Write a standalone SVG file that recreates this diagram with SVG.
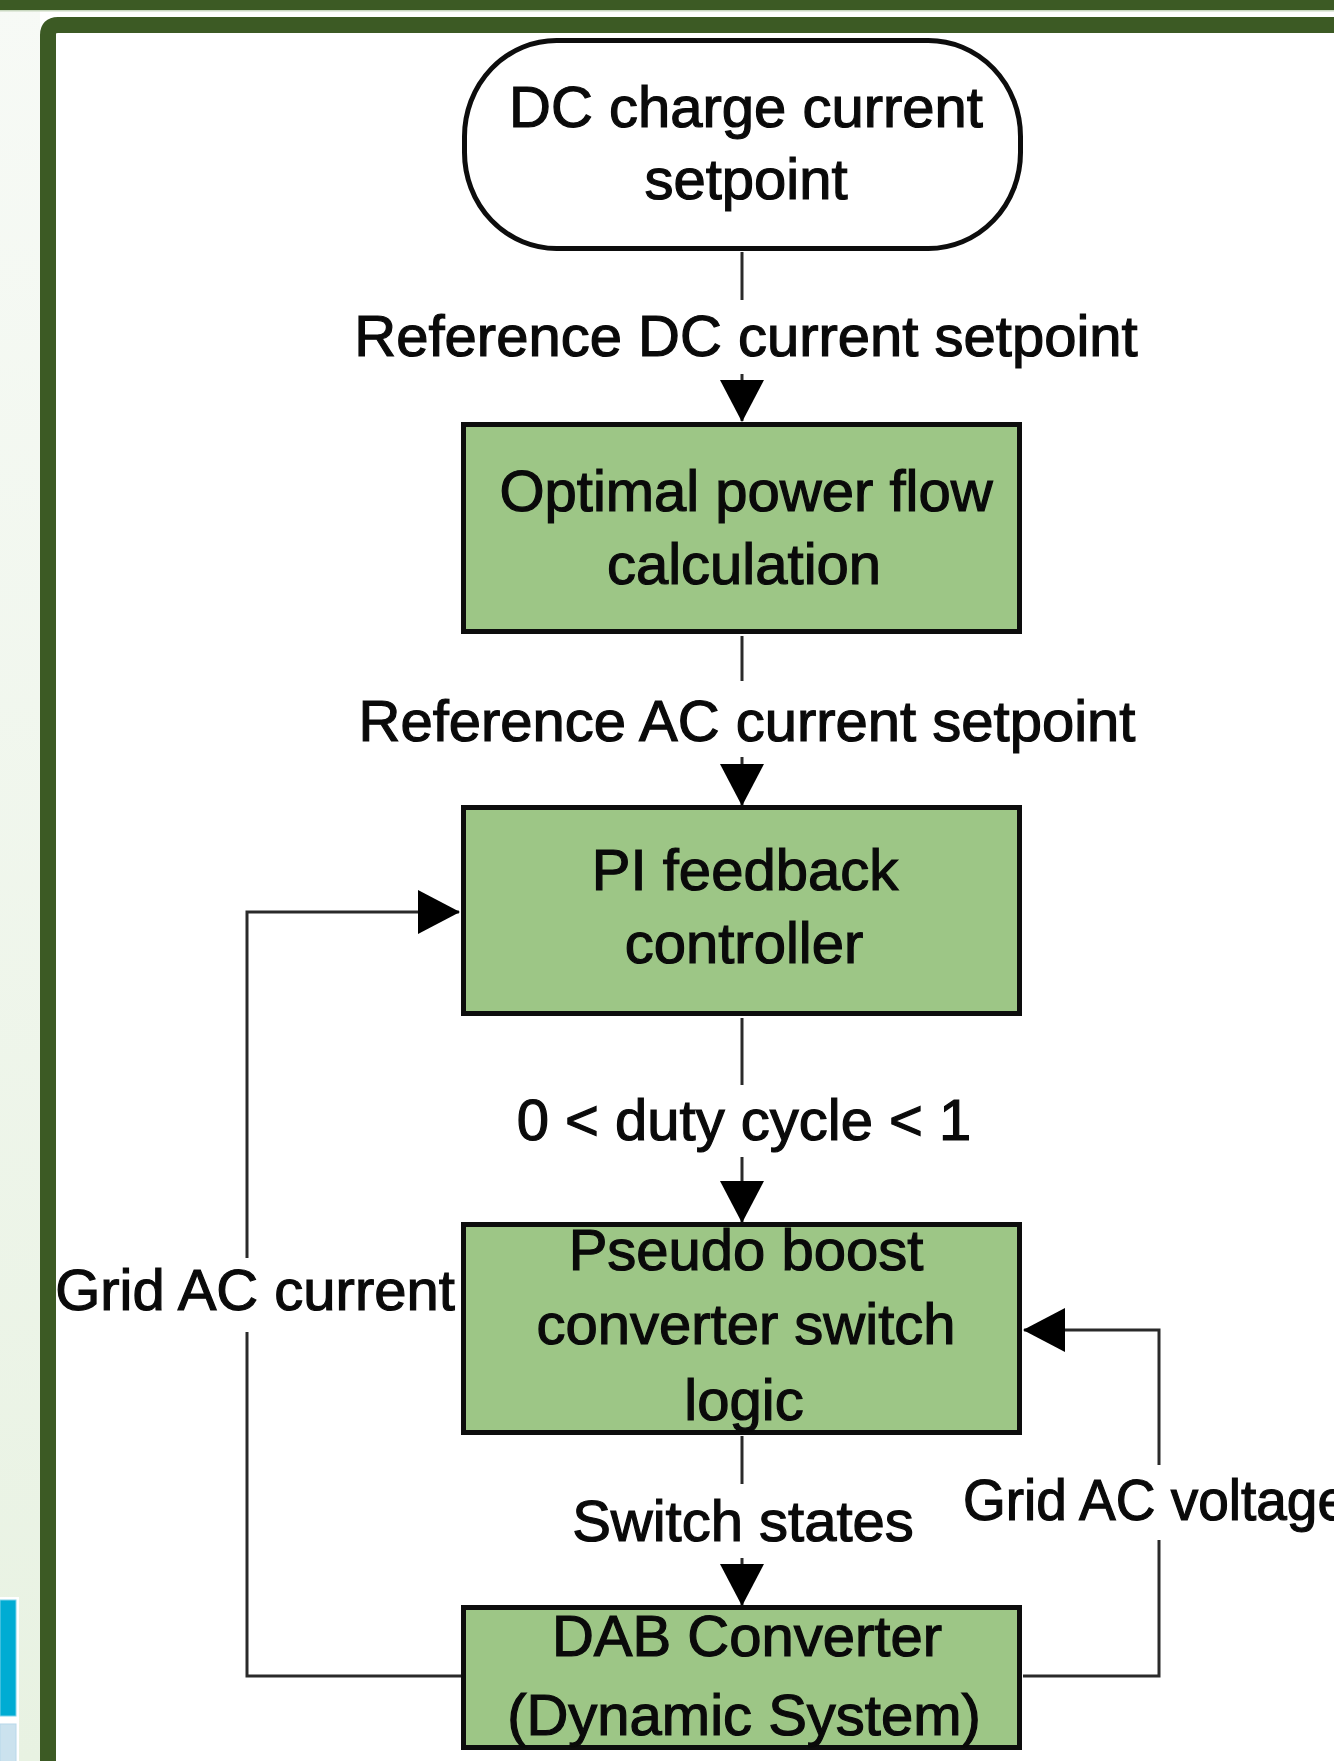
<svg xmlns="http://www.w3.org/2000/svg" width="1334" height="1761" viewBox="0 0 1334 1761">
<defs>
<linearGradient id="side" x1="0" y1="0" x2="0" y2="1">
<stop offset="0" stop-color="#f7faf6"/>
<stop offset="1" stop-color="#e8f2e2"/>
</linearGradient>
<marker id="arr" markerUnits="userSpaceOnUse" markerWidth="42" markerHeight="44" viewBox="0 0 42 44" refX="41" refY="22" orient="auto">
<path d="M0,0 L42,22 L0,44 z" fill="#000"/>
</marker>
<style>
.t{font-family:"Liberation Sans",Arial,sans-serif;font-size:58px;fill:#0a0a0a;stroke:#0a0a0a;stroke-width:1.2px;text-anchor:middle}
.box{fill:#9dc686;stroke:#0d0d0d;stroke-width:5}
.start{fill:#ffffff;stroke:#0d0d0d;stroke-width:5}
.c{fill:none;stroke:#2a2a2a;stroke-width:3}
.bg{fill:#ffffff}
</style>
</defs>
<rect x="0" y="0" width="1334" height="1761" fill="#ffffff"/>
<rect x="0" y="0" width="40" height="1761" fill="url(#side)"/>
<rect x="0" y="1597" width="19" height="164" fill="#ffffff"/>
<rect x="0" y="1600" width="16" height="116" fill="#00acd3" stroke="#7dd2ea" stroke-width="1"/>
<rect x="0" y="1724" width="16" height="40" fill="#cbe2ee" stroke="#b8d8ea" stroke-width="1"/>
<rect x="0" y="0" width="1334" height="10" fill="#3c5a24"/>
<rect x="0" y="10" width="1334" height="1.5" fill="#c9d8c0"/>
<path d="M48,1761 L48,35 Q48,25 58,25 L1334,25" fill="none" stroke="#3c5a24" stroke-width="16"/>

<g id="connectors">
<line class="c" x1="742" y1="252" x2="742" y2="421" marker-end="url(#arr)"/>
<line class="c" x1="742" y1="636" x2="742" y2="805" marker-end="url(#arr)"/>
<line class="c" x1="742" y1="1018" x2="742" y2="1222" marker-end="url(#arr)"/>
<line class="c" x1="742" y1="1436" x2="742" y2="1605" marker-end="url(#arr)"/>
<polyline class="c" points="461,1676 247,1676 247,912 459,912" marker-end="url(#arr)"/>
<polyline class="c" points="1023,1676 1159,1676 1159,1330 1024,1330" marker-end="url(#arr)"/>
<rect class="bg" x="300" y="300" width="870" height="74"/>
<text class="t" x="746" y="356">Reference DC current setpoint</text>
<rect class="bg" x="300" y="681" width="870" height="76"/>
<text class="t" x="747" y="741">Reference AC current setpoint</text>
<rect class="bg" x="490" y="1085" width="510" height="72"/>
<text class="t" x="744" y="1140">0 &lt; duty cycle &lt; 1</text>
<rect class="bg" x="540" y="1484" width="400" height="74"/>
<text class="t" x="743" y="1541">Switch states</text>
<rect class="bg" x="57" y="1258" width="400" height="74"/>
<text class="t" x="255" y="1310">Grid AC current</text>
<rect class="bg" x="955" y="1465" width="379" height="75"/>
<text class="t" x="963" y="1520" style="text-anchor:start" textLength="385" lengthAdjust="spacingAndGlyphs">Grid AC voltage</text>
</g>

<g id="n1">
<rect class="start" x="464.5" y="40.5" width="556" height="208" rx="92" ry="96"/>
<text class="t" x="746" y="127">DC charge current</text>
<text class="t" x="746" y="199">setpoint</text>
</g>
<g id="n2">
<rect class="box" x="463.5" y="424.5" width="556" height="207"/>
<text class="t" x="746" y="511">Optimal power flow</text>
<text class="t" x="744" y="584">calculation</text>
</g>
<g id="n3">
<rect class="box" x="463.5" y="807.5" width="556" height="206"/>
<text class="t" x="745" y="890">PI feedback</text>
<text class="t" x="744" y="963">controller</text>
</g>
<g id="n4">
<rect class="box" x="463.5" y="1224.5" width="556" height="208"/>
<text class="t" x="746" y="1270">Pseudo boost</text>
<text class="t" x="746" y="1344">converter switch</text>
<text class="t" x="744" y="1420">logic</text>
</g>
<g id="n5">
<rect class="box" x="463.5" y="1607.5" width="556" height="140"/>
<text class="t" x="747" y="1656">DAB Converter</text>
<text class="t" x="744" y="1735">(Dynamic System)</text>
</g>
</svg>
